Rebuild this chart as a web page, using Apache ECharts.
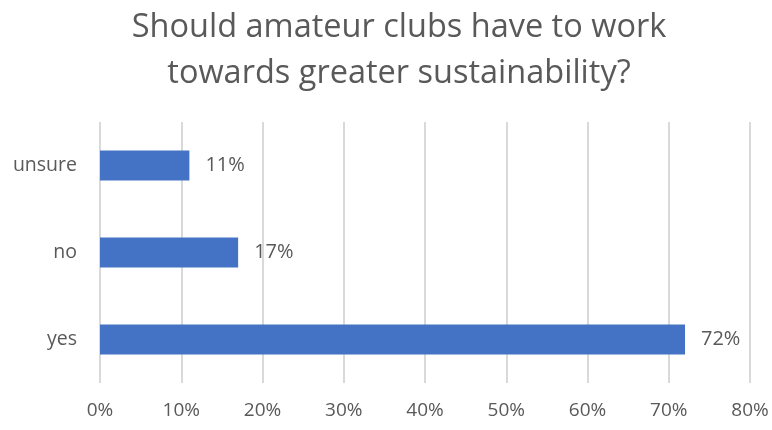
<!DOCTYPE html>
<html>
<head>
<meta charset="utf-8">
<script src="https://cdn.jsdelivr.net/npm/echarts@6/dist/echarts.min.js"></script>
<style>
  html, body { margin: 0; padding: 0; background: #fff; }
  #chart { width: 772px; height: 430px; }
</style>
</head>
<body>
<div id="chart"></div>
<script>
// Survey answers, listed bottom to top on the category axis
const categories = ['yes', 'no', 'unsure'];
const shares = [72, 17, 11];
const tickLabels = ['0%', '10%', '20%', '30%', '40%', '50%', '60%', '70%', '80%'];

const textColor = '#595959';
const fontFamily = '"Open Sans", "Liberation Sans", sans-serif';

const chart = echarts.init(document.getElementById('chart'));
chart.setOption({
  animation: false,
  textStyle: { fontFamily: fontFamily },
  title: {
    text: 'Should amateur clubs have to work\ntowards greater sustainability?',
    left: 394,
    textAlign: 'center',
    top: 0,
    textStyle: {
      color: textColor,
      fontSize: 32.5,
      fontWeight: 'normal',
      lineHeight: 46,
      fontFamily: fontFamily
    }
  },
  grid: { left: 100, right: 22, top: 122, bottom: 47, containLabel: false },
  xAxis: {
    type: 'value',
    min: 0,
    max: 80,
    interval: 10,
    axisLine: { show: false },
    axisTick: { show: false },
    splitLine: { show: true, lineStyle: { color: '#d9d9d9', width: 2 } },
    axisLabel: {
      color: textColor,
      fontSize: 19,
      margin: 18,
      formatter: (v) => tickLabels[Math.round(v / 10)]
    }
  },
  yAxis: {
    type: 'category',
    data: categories,
    axisLine: { show: false },
    axisTick: { show: false },
    axisLabel: { color: textColor, fontSize: 19.5, margin: 23 }
  },
  series: [{
    type: 'bar',
    data: shares,
    barWidth: 30,
    itemStyle: { color: '#4472c4' },
    label: {
      show: true,
      position: 'right',
      distance: 16,
      color: textColor,
      fontSize: 20,
      formatter: (p) => p.value + '%'
    }
  }]
});
</script>
</body>
</html>
